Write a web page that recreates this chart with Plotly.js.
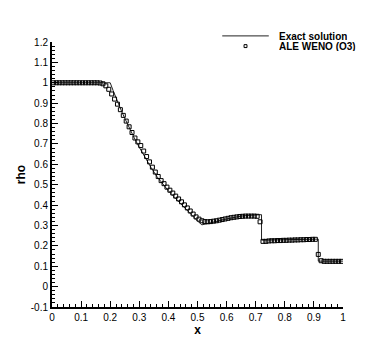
<!DOCTYPE html>
<html>
<head>
<meta charset="utf-8">
<script src="https://cdn.plot.ly/plotly-3.0.1.min.js"></script>
<style>
  html, body { margin: 0; padding: 0; background: #fff; }
  #rho-chart { width: 390px; height: 347px; }
</style>
</head>
<body>
<div id="rho-chart"></div>
<script>
// exact solution (polyline through read-off points)
var exactX = [0, 0.2, 0.21, 0.22, 0.23, 0.24, 0.25, 0.26, 0.27, 0.28, 0.30, 0.32, 0.34, 0.36, 0.38,
  0.40, 0.42, 0.44, 0.46, 0.48, 0.50, 0.515, 0.53, 0.56, 0.59, 0.62, 0.65, 0.68, 0.72,
  0.72, 0.80, 0.915, 0.915, 1.0];
var exactRho = [1, 1, 0.962, 0.925, 0.89, 0.857, 0.826, 0.795, 0.765, 0.737, 0.683, 0.632, 0.585, 0.541, 0.503,
  0.47, 0.44, 0.41, 0.38, 0.35, 0.322, 0.303, 0.307, 0.318, 0.329, 0.338, 0.346, 0.35, 0.353,
  0.228, 0.23, 0.233, 0.125, 0.125];

// ALE WENO (O3) cell values, 100 cells
var cellX = [0.005, 0.015, 0.025, 0.035, 0.045, 0.055, 0.065, 0.075, 0.085, 0.095,
  0.105, 0.115, 0.125, 0.135, 0.145, 0.155, 0.165, 0.175, 0.185, 0.195,
  0.205, 0.215, 0.225, 0.235, 0.245, 0.255, 0.265, 0.275, 0.285, 0.295,
  0.305, 0.315, 0.325, 0.335, 0.345, 0.355, 0.365, 0.375, 0.385, 0.395,
  0.405, 0.415, 0.425, 0.435, 0.445, 0.455, 0.465, 0.475, 0.485, 0.495,
  0.505, 0.515, 0.525, 0.535, 0.545, 0.555, 0.565, 0.575, 0.585, 0.595,
  0.605, 0.615, 0.625, 0.635, 0.645, 0.655, 0.665, 0.675, 0.685, 0.695,
  0.705, 0.715, 0.725, 0.735, 0.745, 0.755, 0.765, 0.775, 0.785, 0.795,
  0.805, 0.815, 0.825, 0.835, 0.845, 0.855, 0.865, 0.875, 0.885, 0.895,
  0.905, 0.915, 0.925, 0.935, 0.945, 0.955, 0.965, 0.975, 0.985, 0.995];
var cellRho = [1, 1, 1, 1, 1, 1, 1, 1, 1, 1,
  1, 1, 1, 1, 1, 1, 0.999, 0.995, 0.985, 0.968,
  0.945, 0.92, 0.895, 0.868, 0.84, 0.812, 0.784, 0.756, 0.729, 0.71,
  0.692, 0.665, 0.638, 0.612, 0.586, 0.562, 0.54, 0.52, 0.505, 0.488,
  0.473, 0.459, 0.444, 0.43, 0.416, 0.401, 0.386, 0.371, 0.356, 0.342,
  0.331, 0.323, 0.319, 0.318, 0.319, 0.321, 0.323, 0.326, 0.329, 0.332,
  0.335, 0.338, 0.34, 0.342, 0.344, 0.345, 0.346, 0.346, 0.346, 0.346,
  0.345, 0.318, 0.222, 0.222, 0.224, 0.225, 0.225, 0.226, 0.226, 0.227,
  0.227, 0.228, 0.228, 0.229, 0.229, 0.23, 0.23, 0.231, 0.231, 0.232,
  0.232, 0.158, 0.127, 0.124, 0.124, 0.124, 0.124, 0.124, 0.124, 0.124];

var xTicks = [0, 0.1, 0.2, 0.3, 0.4, 0.5, 0.6, 0.7, 0.8, 0.9, 1];
var xTickText = ['0', '0.1', '0.2', '0.3', '0.4', '0.5', '0.6', '0.7', '0.8', '0.9', '1'];
var yTicks = [-0.1, 0, 0.1, 0.2, 0.3, 0.4, 0.5, 0.6, 0.7, 0.8, 0.9, 1, 1.1, 1.2];
var yTickText = ['-0.1', '0', '0.1', '0.2', '0.3', '0.4', '0.5', '0.6', '0.7', '0.8', '0.9', '1', '1.1', '1.2'];

var exact = {
  x: exactX,
  y: exactRho,
  name: 'Exact solution',
  type: 'scatter',
  mode: 'lines',
  line: { color: '#222', width: 1 }
};

var weno = {
  x: cellX,
  y: cellRho,
  name: 'ALE WENO (O3)',
  type: 'scatter',
  mode: 'markers',
  marker: { symbol: 'square-open', size: 4, color: '#000', line: { width: 1, color: '#000' } }
};

var axisFont = { family: 'Arial, "Liberation Sans", sans-serif', size: 10, color: '#000' };

var layout = {
  width: 390,
  height: 347,
  margin: { l: 52, r: 47, t: 42, b: 40 },
  paper_bgcolor: '#fff',
  plot_bgcolor: '#fff',
  showlegend: false,
  font: axisFont,
  xaxis: {
    range: [0, 1],
    tickvals: xTicks,
    ticktext: xTickText,
    ticks: 'inside',
    ticklen: 6,
    tickwidth: 1,
    tickcolor: '#000',
    minor: { dtick: 0.02, tick0: 0, ticks: 'inside', ticklen: 3, tickcolor: '#000', showgrid: false },
    showline: true,
    linecolor: '#000',
    linewidth: 2,
    showgrid: false,
    zeroline: false,
    tickfont: axisFont,
    title: { text: '<b>x</b>', font: { family: 'Arial, sans-serif', size: 12, color: '#000' }, standoff: 1 }
  },
  yaxis: {
    range: [-0.1, 1.2],
    tickvals: yTicks,
    ticktext: yTickText,
    ticks: 'inside',
    ticklen: 6,
    tickwidth: 1,
    tickcolor: '#000',
    minor: { dtick: 0.02, tick0: 0, ticks: 'inside', ticklen: 3, tickcolor: '#000', showgrid: false },
    showline: true,
    linecolor: '#000',
    linewidth: 2,
    showgrid: false,
    zeroline: false,
    tickfont: axisFont,
    title: { text: '<b>rho</b>', font: { family: 'Arial, sans-serif', size: 12, color: '#000' }, standoff: 3 }
  },
  // legend drawn by hand, tecplot style
  shapes: [
    { type: 'line', xref: 'paper', yref: 'paper', x0: 0.585, x1: 0.745, y0: 1.023, y1: 1.023,
      line: { color: '#222', width: 1 } },
    { type: 'rect', xref: 'paper', yref: 'paper', x0: 0.66, x1: 0.67, y0: 0.979, y1: 0.99,
      line: { color: '#000', width: 1 } }
  ],
  annotations: [
    { text: '<b>Exact solution</b>', xref: 'paper', yref: 'paper', x: 0.775, y: 1.023,
      xanchor: 'left', yanchor: 'middle', showarrow: false, font: axisFont, height: 10, borderpad: 0 },
    { text: '<b>ALE WENO (O3)</b>', xref: 'paper', yref: 'paper', x: 0.775, y: 0.985,
      xanchor: 'left', yanchor: 'middle', showarrow: false, font: axisFont, height: 10, borderpad: 0 }
  ]
};

Plotly.newPlot('rho-chart', [exact, weno], layout, { displayModeBar: false, staticPlot: true });
</script>
</body>
</html>
